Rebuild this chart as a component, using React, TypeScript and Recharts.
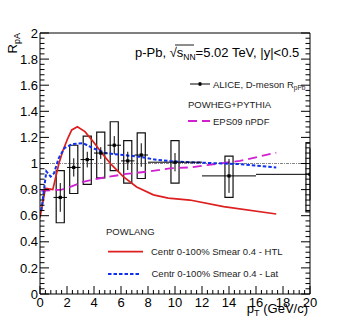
import React from "react";
import {
  ComposedChart,
  Line,
  Scatter,
  ErrorBar,
  XAxis,
  YAxis,
  ReferenceArea,
  ReferenceLine,
} from "recharts";

// ALICE D-meson R_pPb
const alicePt = [1.5, 2.5, 3.5, 4.5, 5.5, 6.5, 7.5, 10, 14, 20];
const aliceRpa = [0.74, 0.97, 1.03, 1.08, 1.14, 1.02, 1.065, 1.01, 0.905, 0.917];
const aliceStat = [0.11, 0.07, 0.06, 0.045, 0.07, 0.07, 0.09, 0.07, 0.13, 0.2];
// bin half-widths; the last bin (16-24) is cut by the frame at 20
const aliceBinLo = [0.5, 0.5, 0.5, 0.5, 0.5, 0.5, 0.5, 2, 2, 4];
const aliceBinHi = [0.5, 0.5, 0.5, 0.5, 0.5, 0.5, 0.5, 2, 2, 0];
const aliceSystLo = [0.546, 0.77, 0.84, 0.89, 0.945, 0.85, 0.885, 0.85, 0.74, 0.63];
const aliceSystHi = [0.945, 1.14, 1.21, 1.24, 1.32, 1.175, 1.235, 1.175, 1.057, 1.155];

// POWLANG HTL
const htlPt = [0, 0.4, 0.95, 1.4, 1.7, 2.05, 2.35, 2.77, 3.33, 3.95, 4.69, 5.31, 6.17, 7.16, 8.4, 9.5, 11.1, 13.6, 17.5];
const htlRpa = [0.585, 0.81, 0.8, 1.0, 1.1, 1.19, 1.257, 1.282, 1.244, 1.167, 1.065, 0.989, 0.9, 0.82, 0.76, 0.735, 0.72, 0.67, 0.613];

// POWLANG Lat
const latPt = [0.1, 0.47, 0.79, 1.04, 1.38, 1.83, 2.42, 3.2, 3.95, 4.94, 6.17, 7.4, 8.4, 9.9, 12.3, 14.8, 17.5];
const latRpa = [0.64, 0.94, 0.9, 0.925, 1.04, 1.12, 1.15, 1.155, 1.116, 1.078, 1.065, 1.052, 1.032, 1.015, 1.005, 0.995, 0.97];

// POWHEG+PYTHIA EPS09
const epsPt = [0.1, 1.6, 1.98, 3.2, 4.44, 6.4, 8.15, 9.63, 11.1, 14.8, 17.5];
const epsRpa = [0.79, 0.8, 0.81, 0.86, 0.887, 0.92, 0.94, 0.963, 0.97, 1.02, 1.083];

const xTicks = Array.from({ length: 51 }, (_, i) => Math.round(i * 4) / 10);
const yTicks = Array.from({ length: 51 }, (_, i) => Math.round(i * 4) / 100);

const FONT = "'Liberation Sans', Arial, Helvetica, sans-serif";

const aliceData = alicePt.map((pt, i) => ({
  pt,
  rpa: aliceRpa[i],
  stat: aliceStat[i],
  xerr: [aliceBinLo[i], aliceBinHi[i]],
}));
const htlData = htlPt.map((pt, i) => ({ pt, v: htlRpa[i] }));
const latData = latPt.map((pt, i) => ({ pt, v: latRpa[i] }));
const epsData = epsPt.map((pt, i) => ({ pt, v: epsRpa[i] }));

const isMajor = (v: number, step: number) => Math.abs(v / step - Math.round(v / step)) < 1e-6;

const fmtY = (v: number) => (isMajor(v, 1) ? String(Math.round(v)) : v.toFixed(1));

const BottomTick = (props: any) => {
  const { x, y, payload } = props;
  const major = isMajor(payload.value, 2);
  return (
    <g>
      <line x1={x} x2={x} y1={y} y2={y - (major ? 8 : 4)} stroke="#000" />
      {major && (
        <text x={x} y={y + 13} textAnchor="middle" fontSize={13} fontFamily={FONT} fill="#000">
          {payload.value}
        </text>
      )}
    </g>
  );
};

const TopTick = (props: any) => {
  const { x, y, payload } = props;
  const major = isMajor(payload.value, 2);
  return <line x1={x} x2={x} y1={y} y2={y + (major ? 8 : 4)} stroke="#000" />;
};

const LeftTick = (props: any) => {
  const { x, y, payload } = props;
  const major = isMajor(payload.value, 0.2);
  return (
    <g>
      <line x1={x} x2={x + (major ? 9 : 4.5)} y1={y} y2={y} stroke="#000" />
      {major && (
        <text x={x - 2} y={y + 4.6} textAnchor="end" fontSize={13} fontFamily={FONT} fill="#000">
          {fmtY(payload.value)}
        </text>
      )}
    </g>
  );
};

const RightTick = (props: any) => {
  const { x, y, payload } = props;
  const major = isMajor(payload.value, 0.2);
  return <line x1={x} x2={x - (major ? 9 : 4.5)} y1={y} y2={y} stroke="#000" />;
};

const Marker = (props: any) => {
  const { cx, cy } = props;
  return <rect x={cx - 1.6} y={cy - 1.6} width={3.2} height={3.2} fill="#000" />;
};

export default function App() {
  return (
    <div style={{ position: "absolute", left: 0, top: 0, width: 337, height: 327, background: "#fff" }}>
      <ComposedChart
        width={337}
        height={327}
        margin={{ top: 32, right: 26, bottom: 32, left: 39 }}
      >
        <XAxis
          xAxisId="b"
          dataKey="pt"
          type="number"
          domain={[0, 20]}
          allowDataOverflow
          ticks={xTicks}
          interval={0}
          height={1}
          tickSize={0}
          tickMargin={0}
          tickLine={false}
          axisLine={{ stroke: "#000" }}
          tick={<BottomTick />}
        />
        <XAxis
          xAxisId="t"
          orientation="top"
          type="number"
          domain={[0, 20]}
          allowDataOverflow
          ticks={xTicks}
          interval={0}
          height={1}
          tickSize={0}
          tickMargin={0}
          tickLine={false}
          axisLine={{ stroke: "#000" }}
          tick={<TopTick />}
        />
        <YAxis
          yAxisId="l"
          type="number"
          domain={[0, 2]}
          allowDataOverflow
          ticks={yTicks}
          interval={0}
          width={1}
          tickSize={0}
          tickMargin={0}
          tickLine={false}
          axisLine={{ stroke: "#000" }}
          tick={<LeftTick />}
        />
        <YAxis
          yAxisId="r"
          orientation="right"
          type="number"
          domain={[0, 2]}
          allowDataOverflow
          ticks={yTicks}
          interval={0}
          width={1}
          tickSize={0}
          tickMargin={0}
          tickLine={false}
          axisLine={{ stroke: "#000" }}
          tick={<RightTick />}
        />
        <ReferenceLine
          xAxisId="b"
          yAxisId="l"
          y={1}
          stroke="#333"
          strokeWidth={0.6}
          strokeDasharray="3 1 1 1"
        />
        {alicePt.map((pt, i) => (
          <ReferenceArea
            key={pt}
            xAxisId="b"
            yAxisId="l"
            x1={pt - 0.3}
            x2={pt + 0.3}
            y1={aliceSystLo[i]}
            y2={aliceSystHi[i]}
            fill="none"
            fillOpacity={0}
            stroke="#111"
            strokeWidth={1.2}
            ifOverflow="hidden"
          />
        ))}
        <Line
          xAxisId="b"
          yAxisId="l"
          data={epsData}
          dataKey="v"
          type="linear"
          stroke="#d020d0"
          strokeWidth={1.8}
          strokeDasharray="9 5"
          dot={false}
          isAnimationActive={false}
        />
        <Line
          xAxisId="b"
          yAxisId="l"
          data={htlData}
          dataKey="v"
          type="linear"
          stroke="#dd1f1f"
          strokeWidth={1.7}
          dot={false}
          isAnimationActive={false}
        />
        <Line
          xAxisId="b"
          yAxisId="l"
          data={latData}
          dataKey="v"
          type="linear"
          stroke="#1030f0"
          strokeWidth={2}
          strokeDasharray="3.5 2"
          dot={false}
          isAnimationActive={false}
        />
        <Scatter
          xAxisId="b"
          yAxisId="l"
          data={aliceData}
          dataKey="rpa"
          shape={<Marker />}
          isAnimationActive={false}
        >
          <ErrorBar dataKey="stat" direction="y" width={0} stroke="#000" strokeWidth={1} isAnimationActive={false} />
          <ErrorBar dataKey="xerr" direction="x" width={0} stroke="#000" strokeWidth={1} isAnimationActive={false} />
        </Scatter>
      </ComposedChart>
      <svg
        width={337}
        height={327}
        style={{ position: "absolute", left: 0, top: 0, pointerEvents: "none" }}
        fontFamily={FONT}
      >
        {/* axis titles */}
        <text transform="translate(17,33) rotate(-90)" textAnchor="end" fontSize={13} fill="#000">
          R<tspan fontSize={9} dy={3}>pA</tspan>
        </text>
        <text x={308} y={313} textAnchor="end" fontSize={13} fill="#000">
          p<tspan fontSize={9} dy={3}>T</tspan>
          <tspan dy={-3}> (GeV/c)</tspan>
        </text>
        {/* system label */}
        <text x={135} y={57} fontSize={13} fill="#000">
          p-Pb, √s<tspan fontSize={8.5} dy={3}>NN</tspan>
          <tspan dy={-3}>=5.02 TeV, |y|&lt;0.5</tspan>
        </text>
        <line x1={175} x2={194} y1={45} y2={45} stroke="#000" strokeWidth={0.9} />
        {/* legend */}
        <line x1={190} x2={210} y1={84} y2={84} stroke="#000" />
        <line x1={200} x2={200} y1={82} y2={86} stroke="#000" />
        <rect x={198.5} y={82.5} width={3} height={3} fill="#000" />
        <text x={213} y={87.5} fontSize={9.5} fill="#222">
          ALICE, D-meson R<tspan fontSize={6.5} dy={2.5}>pPb</tspan>
        </text>
        <text x={188} y={107.5} fontSize={9.5} fill="#222">POWHEG+PYTHIA</text>
        <line x1={188} x2={210} y1={121} y2={121} stroke="#d020d0" strokeWidth={1.8} strokeDasharray="9 5" />
        <text x={213} y={124.5} fontSize={9.5} fill="#222">EPS09 nPDF</text>
        <text x={106} y={234.5} fontSize={9.5} fill="#222">POWLANG</text>
        <line x1={108} x2={143} y1={251.7} y2={251.7} stroke="#dd1f1f" strokeWidth={1.7} />
        <text x={151} y={255} fontSize={9.5} fill="#222">Centr 0-100% Smear 0.4 - HTL</text>
        <line x1={108} x2={140} y1={274} y2={274} stroke="#1030f0" strokeWidth={2} strokeDasharray="3.5 2" />
        <text x={151.5} y={277.3} fontSize={9.5} fill="#222">Centr 0-100% Smear 0.4 - Lat</text>
      </svg>
    </div>
  );
}
